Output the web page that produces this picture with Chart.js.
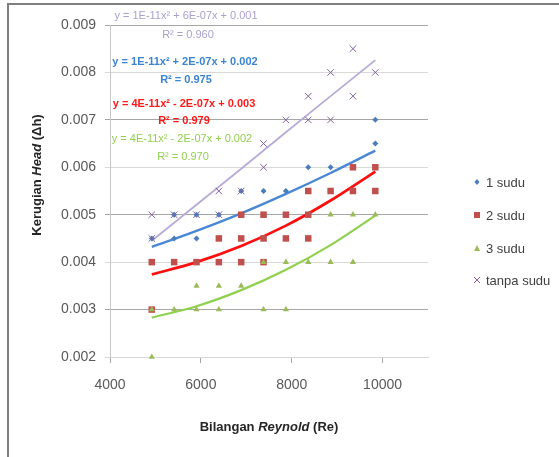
<!DOCTYPE html>
<html>
<head>
<meta charset="utf-8">
<script src="https://cdn.jsdelivr.net/npm/chart.js@4.4.0/dist/chart.umd.min.js"></script>
<style>
html,body{margin:0;padding:0;background:#fff;}
#wrap{width:559px;height:457px;}
</style>
</head>
<body>
<div id="wrap"><canvas id="chartHead" width="559" height="457"></canvas></div>
<script>
// data
const seriesNames = ['1 sudu', '2 sudu', '3 sudu', 'tanpa sudu'];

const reynold1 = [4920, 5412, 5412, 5904, 5904, 6396, 6888, 7380, 7872, 8364, 8856, 9348, 9840, 9840];
const head1 = [0.0045, 0.0045, 0.005, 0.0045, 0.005, 0.005, 0.0055, 0.0055, 0.0055, 0.006, 0.006, 0.006, 0.0065, 0.007];

const reynold2 = [4920, 4920, 5412, 5904, 6396, 6396, 6888, 6888, 6888, 7380, 7380, 7380, 7872, 7872, 8364, 8364, 8364, 8856, 9348, 9348, 9840, 9840];
const head2 = [0.004, 0.003, 0.004, 0.004, 0.0045, 0.004, 0.005, 0.0045, 0.004, 0.005, 0.0045, 0.004, 0.005, 0.0045, 0.0055, 0.005, 0.0045, 0.0055, 0.006, 0.0055, 0.006, 0.0055];

const reynold3 = [4920, 4920, 5412, 5904, 5904, 6396, 6396, 6888, 7380, 7380, 7872, 7872, 8364, 8856, 8856, 9348, 9348, 9840];
const head3 = [0.003, 0.002, 0.003, 0.0035, 0.003, 0.0035, 0.003, 0.0035, 0.004, 0.003, 0.004, 0.003, 0.004, 0.005, 0.004, 0.005, 0.004, 0.005];

const reynold0 = [4920, 4920, 5412, 5904, 6396, 6396, 6888, 7380, 7380, 7872, 8364, 8364, 8856, 8856, 9348, 9348, 9840];
const head0 = [0.005, 0.0045, 0.005, 0.005, 0.0055, 0.005, 0.0055, 0.0065, 0.006, 0.007, 0.0075, 0.007, 0.008, 0.007, 0.0085, 0.0075, 0.008];

// polynomial trendlines as they appear in the picture
const trendRe = [4920, 5904, 6888, 7872, 8856, 9840];
const trend1 = [0.00432, 0.00466, 0.00503, 0.00544, 0.00588, 0.00635];
const trend2 = [0.00374, 0.00400, 0.00434, 0.00477, 0.00530, 0.00591];
const trend3 = [0.00283, 0.00307, 0.00341, 0.00384, 0.00436, 0.00498];
const trend0 = [0.00445, 0.00521, 0.00597, 0.00674, 0.00750, 0.00826];

// one entry per series, same order as seriesNames
const equations = [
  ['y = 1E-11x² + 2E-07x + 0.002', 'R² = 0.975'],
  ['y = 4E-11x² - 2E-07x + 0.003', 'R² = 0.979'],
  ['y = 4E-11x² - 2E-07x + 0.002', 'R² = 0.970'],
  ['y = 1E-11x² + 6E-07x + 0.001', 'R² = 0.960']
];

const reTicks = [4000, 6000, 8000, 10000];
const headTicks = [0.002, 0.003, 0.004, 0.005, 0.006, 0.007, 0.008, 0.009];

const FONT = '"Liberation Sans", Arial, sans-serif';
const markerCol = ['#4a7ebb', '#c0504d', '#9bbb59', '#8064a2'];
const trendCol = ['#4a88d6', '#ff1010', '#8fd14f', '#b8abd8'];
const eqCol = ['#3a84d2', '#ff1a1a', '#92d050', '#ab9fd0'];

function pts(xs, ys) { return xs.map((x, i) => ({x: x, y: ys[i]})); }

function trend(ys, i, w) {
  return {
    label: 'trend' + i, data: pts(trendRe, ys), showLine: true,
    borderColor: trendCol[i], borderWidth: w, pointRadius: 0,
    cubicInterpolationMode: 'monotone', order: 10
  };
}

const headPlugin = {
  id: 'headPlugin',
  beforeDraw(chart) {
    const c = chart.ctx;
    c.save();
    c.fillStyle = '#fff';
    c.fillRect(0, 0, chart.width, chart.height);
    c.fillStyle = '#7f7f7f';
    c.fillRect(8, 3, chart.width - 8, 2);
    c.fillRect(7, 3, 2, chart.height - 3);
    c.restore();
  },
  afterDraw(chart) {
    const c = chart.ctx;
    c.save();
    // trendline equations, top to bottom: tanpa, 1, 2, 3 sudu
    const eqY = [[16, 35], [62, 80], [104, 121], [139, 157]];
    const eqX = [[186, 188], [185, 186], [184, 184], [182, 183]];
    const order = [3, 0, 1, 2];
    c.textAlign = 'center';
    c.textBaseline = 'middle';
    order.forEach((s, k) => {
      c.fillStyle = eqCol[s];
      c.font = ((s === 0 || s === 1) ? 'bold ' : '') + '11px ' + FONT;
      c.fillText(equations[s][0], eqX[k][0], eqY[k][0]);
      c.fillText(equations[s][1], eqX[k][1], eqY[k][1]);
    });

    // axis titles with italic words
    c.fillStyle = '#262626';
    function mixed(parts, x, y) {
      let w = 0;
      parts.forEach(p => { c.font = p[1] + ' 13px ' + FONT; w += c.measureText(p[0]).width; });
      let cx = x - w / 2;
      c.textAlign = 'left';
      parts.forEach(p => { c.font = p[1] + ' 13px ' + FONT; c.fillText(p[0], cx, y); cx += c.measureText(p[0]).width; });
    }
    mixed([['Bilangan ', 'bold'], ['Reynold', 'italic bold'], [' (Re)', 'bold']], 269, 427);
    c.save();
    c.translate(37, 175);
    c.rotate(-Math.PI / 2);
    mixed([['Kerugian ', 'bold'], ['Head', 'italic bold'], [' (Δh)', 'bold']], 0, 0);
    c.restore();

    // legend
    const lx = 477, ly = [182, 215, 248, 280];
    seriesNames.forEach((name, i) => {
      const y = ly[i];
      c.fillStyle = markerCol[i];
      c.strokeStyle = markerCol[i];
      c.beginPath();
      if (i === 0) { c.moveTo(lx, y - 3); c.lineTo(lx + 2.5, y); c.lineTo(lx, y + 3); c.lineTo(lx - 2.5, y); c.fill(); }
      else if (i === 1) { c.fillRect(lx - 3, y - 3, 6, 6); }
      else if (i === 2) { c.moveTo(lx, y - 3); c.lineTo(lx + 3, y + 3); c.lineTo(lx - 3, y + 3); c.fill(); }
      else { c.lineWidth = 1; c.moveTo(lx - 3, y - 3); c.lineTo(lx + 3, y + 3); c.moveTo(lx + 3, y - 3); c.lineTo(lx - 3, y + 3); c.stroke(); }
      c.fillStyle = '#404040';
      c.font = '13px ' + FONT;
      c.textAlign = 'left';
      c.fillText(name, lx + 9, y + 1);
    });
    c.restore();
  }
};

new Chart(document.getElementById('chartHead'), {
  type: 'scatter',
  data: {
    datasets: [
      {label: seriesNames[0], data: pts(reynold1, head1), pointStyle: 'rectRot', pointRadius: 3,
        backgroundColor: markerCol[0], borderColor: markerCol[0], borderWidth: 0, order: 4, clip: false},
      {label: seriesNames[1], data: pts(reynold2, head2), pointStyle: 'rect', pointRadius: 4.6,
        backgroundColor: markerCol[1], borderColor: markerCol[1], borderWidth: 0, order: 3, clip: false},
      {label: seriesNames[2], data: pts(reynold3, head3), pointStyle: 'triangle', pointRadius: 3.6,
        backgroundColor: markerCol[2], borderColor: markerCol[2], borderWidth: 0, order: 2, clip: false},
      {label: seriesNames[3], data: pts(reynold0, head0), pointStyle: 'crossRot', pointRadius: 4.6,
        backgroundColor: markerCol[3], borderColor: markerCol[3], borderWidth: 1, order: 1, clip: false},
      trend(trend1, 0, 2.4),
      trend(trend2, 1, 2.8),
      trend(trend3, 2, 2.2),
      trend(trend0, 3, 1.8)
    ]
  },
  options: {
    responsive: false,
    animation: false,
    layout: {padding: {left: 0, right: 131, top: 25, bottom: 0}},
    plugins: {legend: {display: false}, tooltip: {enabled: false}},
    scales: {
      x: {
        type: 'linear', min: 4000, max: 11000,
        afterBuildTicks: s => { s.ticks = reTicks.map(v => ({value: v})); },
        afterFit: s => { s.height = 100; },
        ticks: {color: '#595959', font: {family: FONT, size: 14}, padding: 14, maxRotation: 0,
          callback: v => String(v)},
        grid: {drawOnChartArea: false, drawTicks: true, tickLength: 6, color: '#a6a6a6'},
        border: {display: true, color: '#d9d9d9'}
      },
      y: {
        min: 0.002, max: 0.009,
        afterBuildTicks: s => { s.ticks = headTicks.map(v => ({value: v})); },
        afterFit: s => { s.width = 110; },
        ticks: {color: '#595959', font: {family: FONT, size: 14}, padding: 9,
          callback: v => v.toFixed(3)},
        grid: {
          color: ctx => (Math.round(ctx.tick.value * 1000) % 2 === 1 ? '#a6a6a6' : '#d9d9d9'),
          tickLength: 5, lineWidth: 1
        },
        border: {display: true, color: '#c8c8c8'}
      }
    }
  },
  plugins: [headPlugin]
});
</script>
</body>
</html>
